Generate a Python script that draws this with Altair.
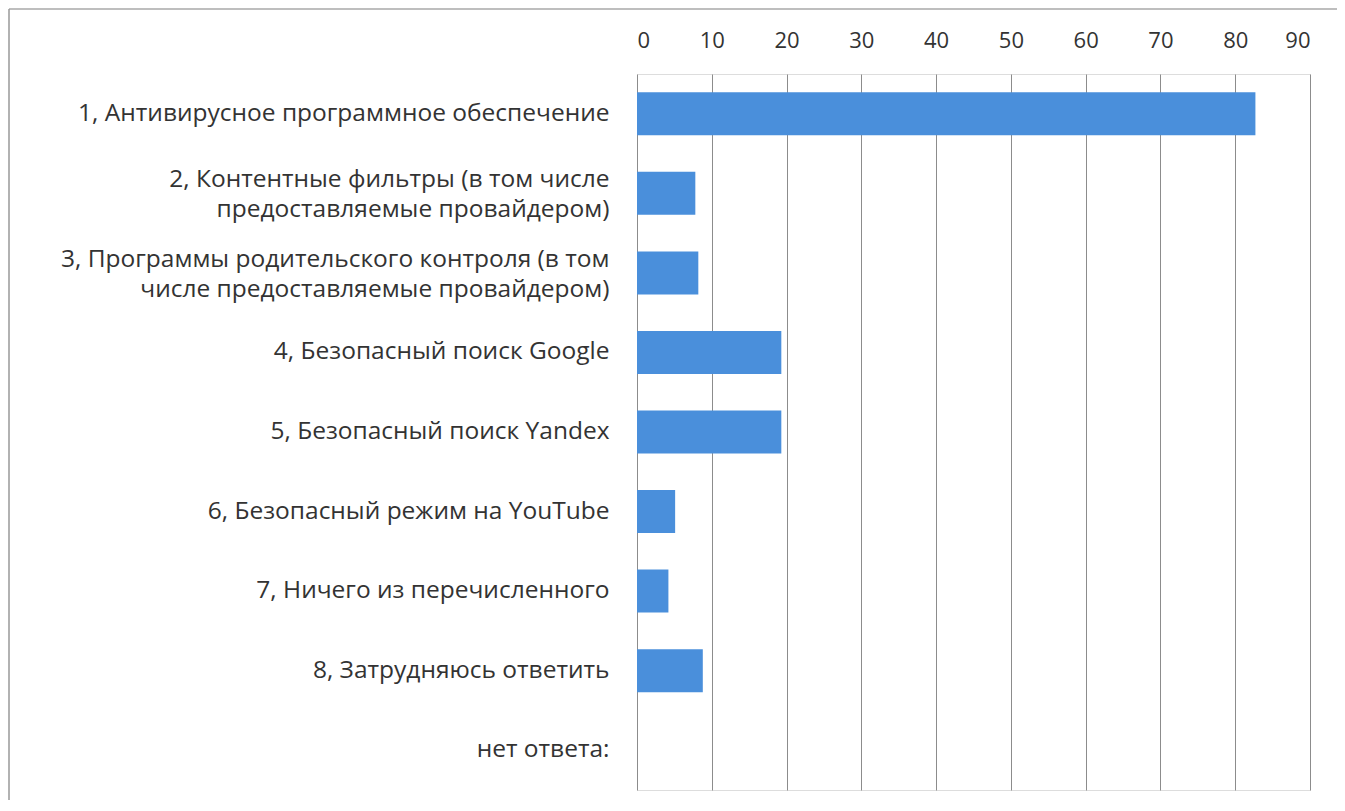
import altair as alt
import pandas as pd

categories = [
    "1, Антивирусное программное обеспечение",
    "2, Контентные фильтры (в том числе|предоставляемые провайдером)",
    "3, Программы родительского контроля (в том|числе предоставляемые провайдером)",
    "4, Безопасный поиск Google",
    "5, Безопасный поиск Yandex",
    "6, Безопасный режим на YouTube",
    "7, Ничего из перечисленного",
    "8, Затрудняюсь ответить",
    "нет ответа:",
]
values = [82.7, 7.8, 8.2, 19.3, 19.3, 5.1, 4.2, 8.8, 0]
x_ticks = [0, 10, 20, 30, 40, 50, 60, 70, 80, 90]

df = pd.DataFrame({"cat": categories, "val": values})

W, H = 673, 716
PAD_L, PAD_T = 629, 66

bars = alt.Chart(df).mark_bar(color="#4A8FDB", size=43).encode(
    y=alt.Y("cat:N", sort=categories, title=None,
            scale=alt.Scale(paddingInner=0.46, paddingOuter=0.23),
            axis=alt.Axis(labelExpr="split(datum.label, '|')", labelFontSize=24.5,
                          labelFont="Open Sans", labelColor="#333333", labelLimit=700,
                          labelPadding=28, ticks=False, domain=False, labelLineHeight=30,
                          labelOffset=alt.condition("indexof(datum.value, '|') >= 0",
                                                    alt.value(-13), alt.value(0)))),
    x=alt.X("val:Q", title=None, scale=alt.Scale(domain=[0, 90], nice=False),
            axis=alt.Axis(orient="top", values=x_ticks, labelFontSize=22, labelFont="Open Sans",
                          labelColor="#333333", domain=False, ticks=False, labelPadding=22,
                          grid=True, gridColor="#8c8c8c", gridWidth=1)),
)

frame_top = alt.Chart(pd.DataFrame({"a": [0]})).mark_rule(
    stroke="#a8a8a8", strokeWidth=1.5
).encode(x=alt.value(-628), x2=alt.value(710), y=alt.value(-65))

frame_left = alt.Chart(pd.DataFrame({"a": [0]})).mark_rule(
    stroke="#999999", strokeWidth=1.5
).encode(x=alt.value(-628), y=alt.value(-65), y2=alt.value(740))

chart = alt.layer(frame_top, frame_left, bars).properties(
    width=W, height=H,
    autosize=alt.AutoSizeParams(type="none"),
    padding={"left": PAD_L, "top": PAD_T, "right": 27, "bottom": 10},
).configure_view(stroke=None).configure(background="white")

chart.save("out.html", embed_options={"renderer": "svg", "actions": False})
